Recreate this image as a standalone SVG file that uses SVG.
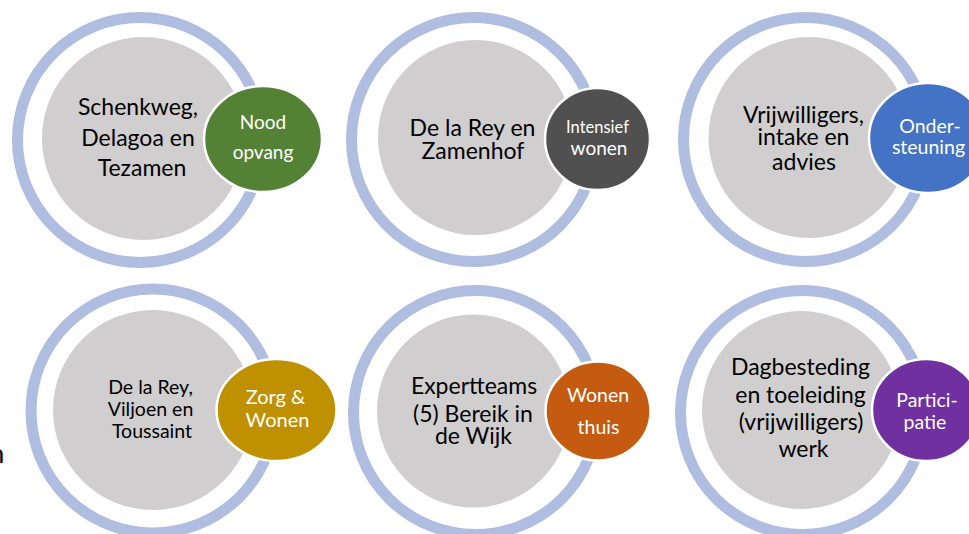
<svg xmlns="http://www.w3.org/2000/svg" width="969" height="534" viewBox="0 0 969 534">
<style>
  .ring { fill: none; stroke: #AFBDE0; stroke-width: 11; }
  .core { fill: #D0CECE; }
  .tag { stroke: #FFFFFF; stroke-width: 2.5; }
  text { font-family: Lato, "Liberation Sans", sans-serif; text-anchor: middle; }
  .dark { fill: #000000; }
  .light { fill: #FFFFFF; }
</style>
<rect width="969" height="534" fill="#FFFFFF"/>
<text x="-3" y="463" class="dark" style="font-size:26px">n</text>

<g id="node-noodopvang">
  <circle class="ring" cx="140" cy="140" r="122.5"/>
  <circle class="core" cx="143.5" cy="138.5" r="101.5"/>
  <text class="dark" style="font-size:23px"><tspan x="138" y="115">Schenkweg,</tspan><tspan x="138" y="146">Delagoa en</tspan><tspan x="142" y="176">Tezamen</tspan></text>
  <ellipse class="tag" cx="263" cy="139" rx="59" ry="53" fill="#548235"/>
  <text class="light" style="font-size:19px"><tspan x="263" y="129">Nood</tspan><tspan x="263" y="159">opvang</tspan></text>
</g>

<g id="node-intensief-wonen">
  <circle class="ring" cx="473.5" cy="139.5" r="122"/>
  <circle class="core" cx="475.5" cy="137.5" r="97.5"/>
  <text class="dark" style="font-size:23px"><tspan x="472.5" y="136">De la Rey en</tspan><tspan x="473" y="159">Zamenhof</tspan></text>
  <ellipse class="tag" cx="597.5" cy="139" rx="52.5" ry="51" fill="#505050"/>
  <text class="light"><tspan x="597.5" y="132.5" style="font-size:16.5px">Intensief</tspan><tspan x="599" y="155" style="font-size:19px">wonen</tspan></text>
</g>

<g id="node-ondersteuning">
  <circle class="ring" cx="805.5" cy="139.5" r="122"/>
  <circle class="core" cx="809" cy="137.5" r="100.5"/>
  <text class="dark" style="font-size:23px"><tspan x="803.5" y="123">Vrijwilligers,</tspan><tspan x="803.5" y="145">intake en</tspan><tspan x="804" y="170">advies</tspan></text>
  <ellipse class="tag" cx="928" cy="138" rx="59" ry="55" fill="#4472C4"/>
  <text class="light" style="font-size:19.5px"><tspan x="930" y="133">Onder-</tspan><tspan x="928.5" y="154">steuning</tspan></text>
</g>

<g id="node-zorg-wonen">
  <circle class="ring" cx="153" cy="411" r="122"/>
  <circle class="core" cx="153" cy="410" r="100"/>
  <text class="dark" style="font-size:19.5px"><tspan x="150.5" y="394">De la Rey,</tspan><tspan x="150.5" y="416">Viljoen en</tspan><tspan x="152" y="438">Toussaint</tspan></text>
  <ellipse class="tag" cx="276.5" cy="410" rx="60" ry="51" fill="#BF9000"/>
  <text class="light" style="font-size:20px"><tspan x="275.5" y="404">Zorg &amp;</tspan><tspan x="277.5" y="426.5">Wonen</tspan></text>
</g>

<g id="node-wonen-thuis">
  <circle class="ring" cx="475.5" cy="412.5" r="122"/>
  <circle class="core" cx="473.5" cy="411" r="96.5"/>
  <text class="dark" style="font-size:23px"><tspan x="474" y="394">Expertteams</tspan><tspan x="473" y="421.5">(5) Bereik in</tspan><tspan x="473.5" y="444">de Wijk</tspan></text>
  <ellipse class="tag" cx="598" cy="411" rx="52.5" ry="49.5" fill="#C55A11"/>
  <text class="light" style="font-size:19.5px"><tspan x="598" y="401.5">Wonen</tspan><tspan x="598.5" y="434">thuis</tspan></text>
</g>

<g id="node-participatie">
  <circle class="ring" cx="802.5" cy="412.5" r="122"/>
  <circle class="core" cx="801" cy="410" r="99"/>
  <text class="dark" style="font-size:23px"><tspan x="800.5" y="375">Dagbesteding</tspan><tspan x="800.5" y="402.5">en toeleiding</tspan><tspan x="801" y="430">(vrijwilligers)</tspan><tspan x="803.5" y="456.5">werk</tspan></text>
  <ellipse class="tag" cx="926" cy="410" rx="54" ry="51" fill="#7030A0"/>
  <text class="light" style="font-size:19.5px"><tspan x="927" y="407">Partici-</tspan><tspan x="925" y="428.5">patie</tspan></text>
</g>
</svg>
